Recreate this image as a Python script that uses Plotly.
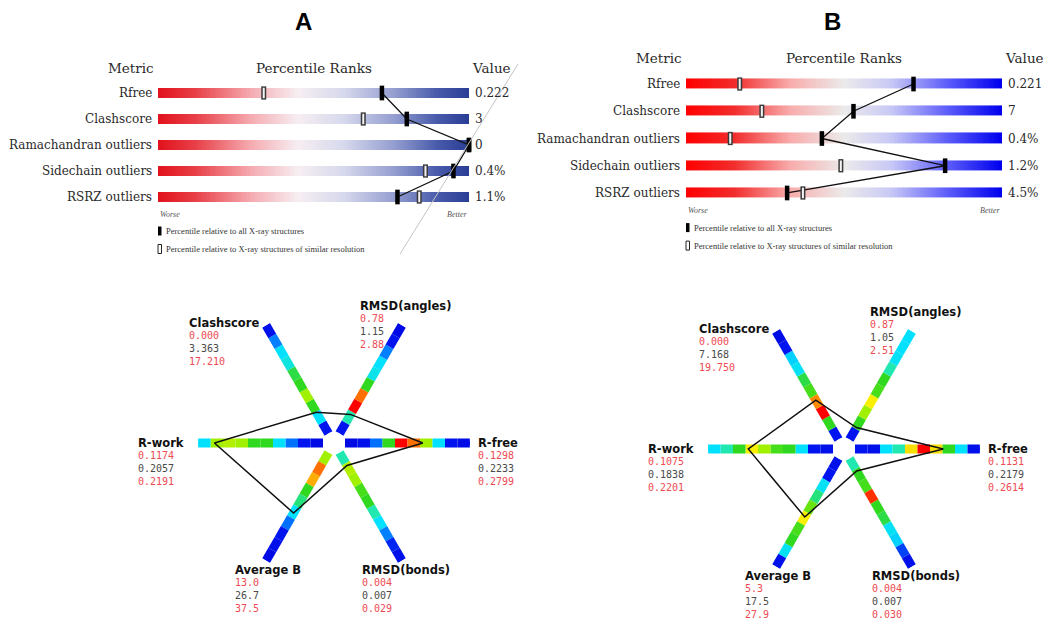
import numpy as np
import plotly.graph_objects as go
from plotly.colors import sample_colorscale

W, H = 1045, 623


def px(x):
    return x / W


def py(y):
    return 1 - y / H


# ---------------- percentile-rank sliders ----------------
metrics = ["Rfree", "Clashscore", "Ramachandran outliers", "Sidechain outliers", "RSRZ outliers"]

a_values = ["0.222", "3", "0", "0.4%", "1.1%"]
a_pct_all = [72, 80, 100, 95, 77]
a_pct_res = [34, 66, 100, 86, 84]

b_values = ["0.221", "7", "0.4%", "1.2%", "4.5%"]
b_pct_all = [72, 53, 43, 82, 32]
b_pct_res = [17, 24, 14, 49, 37]

# ---------------- polygon statistics ----------------
spokes = ["R-free", "RMSD(angles)", "Clashscore", "R-work", "Average B", "RMSD(bonds)"]
spoke_angles = [0, 60, 120, 180, 240, 300]

a_low = ["0.1298", "0.78", "0.000", "0.1174", "13.0", "0.004"]
a_val = ["0.2233", "1.15", "3.363", "0.2057", "26.7", "0.007"]
a_high = ["0.2799", "2.88", "17.210", "0.2191", "37.5", "0.029"]

b_low = ["0.1131", "0.87", "0.000", "0.1075", "5.3", "0.004"]
b_val = ["0.2179", "1.05", "7.168", "0.1838", "17.5", "0.007"]
b_high = ["0.2614", "2.51", "19.750", "0.2201", "27.9", "0.030"]

# relative histogram density per bin, from the centre outwards (10 bins per spoke)
a_hist_rfree = [0.05, 0.08, 0.2, 0.5, 1.0, 0.85, 0.6, 0.35, 0.1, 0.06]
a_hist_angles = [0.1, 0.42, 1.0, 0.85, 0.5, 0.37, 0.35, 0.22, 0.1, 0.05]
a_hist_clash = [0.1, 0.35, 0.5, 0.6, 0.5, 0.48, 0.38, 0.35, 0.22, 0.08]
a_hist_rwork = [0.05, 0.1, 0.2, 0.35, 0.5, 0.5, 0.6, 0.62, 0.6, 0.35]
a_hist_bfac = [0.6, 0.85, 0.78, 0.5, 0.45, 0.35, 0.2, 0.1, 0.08, 0.05]
a_hist_bonds = [0.42, 0.62, 0.6, 0.52, 0.5, 0.42, 0.35, 0.22, 0.12, 0.08]

b_hist_rfree = [0.1, 0.08, 0.35, 0.42, 0.72, 1.0, 0.72, 0.5, 0.35, 0.08]
b_hist_angles = [0.1, 0.5, 0.6, 0.7, 0.52, 0.5, 0.42, 0.36, 0.35, 0.35]
b_hist_clash = [0.1, 0.5, 1.0, 0.82, 0.52, 0.48, 0.36, 0.33, 0.1, 0.06]
b_hist_rwork = [0.08, 0.1, 0.35, 0.5, 0.52, 0.6, 0.7, 0.5, 0.42, 0.35]
b_hist_bfac = [0.08, 0.1, 0.36, 0.45, 0.55, 0.7, 0.52, 0.5, 0.36, 0.08]
b_hist_bonds = [0.42, 0.5, 0.52, 0.92, 0.5, 0.48, 0.36, 0.33, 0.15, 0.08]

a_hist = [a_hist_rfree, a_hist_angles, a_hist_clash, a_hist_rwork, a_hist_bfac, a_hist_bonds]
b_hist = [b_hist_rfree, b_hist_angles, b_hist_clash, b_hist_rwork, b_hist_bfac, b_hist_bonds]

# ---------------- styling ----------------
SLIDER_A = [[0.0, "rgb(226,18,28)"], [0.12, "rgb(232,64,72)"], [0.3, "rgb(245,172,178)"],
            [0.45, "rgb(246,238,242)"], [0.6, "rgb(214,216,236)"], [0.76, "rgb(148,158,208)"],
            [0.9, "rgb(72,90,170)"], [1.0, "rgb(42,62,150)"]]
SLIDER_B = [[0.0, "rgb(255,0,0)"], [0.15, "rgb(242,44,44)"], [0.33, "rgb(248,172,172)"],
            [0.5, "rgb(236,234,234)"], [0.65, "rgb(200,200,246)"], [0.83, "rgb(92,92,250)"],
            [1.0, "rgb(0,0,238)"]]
SPOKE_SCALE = [[0.0, "rgb(0,0,216)"], [0.1, "rgb(0,20,240)"], [0.2, "rgb(0,112,255)"],
               [0.35, "rgb(0,224,255)"], [0.42, "rgb(32,232,176)"], [0.5, "rgb(48,216,32)"],
               [0.6, "rgb(160,240,0)"], [0.7, "rgb(248,240,0)"], [0.82, "rgb(255,140,0)"],
               [0.92, "rgb(255,48,0)"], [1.0, "rgb(255,0,0)"]]

SERIF = "DejaVu Serif"
SMALL_SERIF = "Liberation Serif"
SANS = "DejaVu Sans"
MONO = "DejaVu Sans Mono"
RED_NUM = "#ee4a52"
GREY_NUM = "#4a4a4a"

fig = go.Figure()
annotations = []
shapes = []

# slider panels: (axis suffix, x pixel span, y pixel span, gap, colours, data)
slider_panels = [
    ("", (158, 469), (80, 210), 16, SLIDER_A, a_values, a_pct_all, a_pct_res),
    ("2", (686, 1002), (70.4, 206.6), 17, SLIDER_B, b_values, b_pct_all, b_pct_res),
]

N = 240
rows = list(range(len(metrics)))
for suf, (x0, x1), (y0, y1), gap, cscale, vals, p_all, p_res in slider_panels:
    xa, ya = "x" + suf, "y" + suf
    z = np.tile(np.linspace(0, 1, N), (len(metrics), 1))
    fig.add_trace(go.Heatmap(
        z=z, x=np.linspace(0, 100, N + 1), y=rows, colorscale=cscale, zmin=0, zmax=1,
        showscale=False, ygap=gap, hoverinfo="skip", xaxis=xa, yaxis=ya))
    # line joining the all-structure percentiles
    fig.add_trace(go.Scatter(x=p_all, y=rows, mode="lines", line=dict(color="#111", width=1.3),
                             xaxis=xa, yaxis=ya, hoverinfo="skip", showlegend=False, cliponaxis=False))
    # open markers: resolution-matched percentile
    fig.add_trace(go.Scatter(x=p_res, y=rows, mode="markers",
                             marker=dict(symbol="line-ns", size=9.5, line=dict(width=5, color="#3a3a3a")),
                             xaxis=xa, yaxis=ya, hoverinfo="skip", showlegend=False, cliponaxis=False))
    fig.add_trace(go.Scatter(x=p_res, y=rows, mode="markers",
                             marker=dict(symbol="line-ns", size=7.5, line=dict(width=2, color="#f4f4f4")),
                             xaxis=xa, yaxis=ya, hoverinfo="skip", showlegend=False, cliponaxis=False))
    # filled markers: all X-ray structures percentile
    fig.add_trace(go.Scatter(x=p_all, y=rows, mode="markers",
                             marker=dict(symbol="line-ns", size=10.5, line=dict(width=4.5, color="#000")),
                             xaxis=xa, yaxis=ya, hoverinfo="skip", showlegend=False, cliponaxis=False))

    axis_x = dict(domain=[px(x0), px(x1)], range=[0, 100], visible=False, fixedrange=True)
    axis_y = dict(domain=[py(y1), py(y0)], range=[len(metrics) - 0.5, -0.5], visible=False,
                  fixedrange=True, anchor=xa)
    axis_x["anchor"] = ya
    fig.update_layout(**{"xaxis" + suf: axis_x, "yaxis" + suf: axis_y})

    for i, name in enumerate(metrics):
        annotations.append(dict(text=name, x=px(x0 - 4), y=i, xref="paper", yref=ya,
                                xanchor="right", yanchor="middle", showarrow=False,
                                font=dict(family=SERIF, size=12, color="#2a2a2a")))
        annotations.append(dict(text=vals[i], x=px(x1 + 4), y=i, xref="paper", yref=ya,
                                xanchor="left", yanchor="middle", showarrow=False,
                                font=dict(family=SERIF, size=12, color="#2a2a2a")))

    head_y = y0 - 12
    annotations += [
        dict(text="Metric", x=px(x0 - 2), y=py(head_y), xanchor="right"),
        dict(text="Percentile Ranks", x=px((x0 + x1) / 2), y=py(head_y), xanchor="center"),
        dict(text="Value", x=px(x1 + 1), y=py(head_y), xanchor="left"),
    ]
    for a in annotations[-3:]:
        a.update(xref="paper", yref="paper", yanchor="middle", showarrow=False,
                 font=dict(family=SERIF, size=13.5, color="#2a2a2a"))

    # Worse / Better captions
    cap_y = y1 + 4
    annotations.append(dict(text="<i>Worse</i>", x=px(x0), y=py(cap_y), xref="paper", yref="paper",
                            xanchor="left", yanchor="middle", showarrow=False,
                            font=dict(family=SMALL_SERIF, size=8, color="#555")))
    annotations.append(dict(text="<i>Better</i>", x=px(x1), y=py(cap_y), xref="paper", yref="paper",
                            xanchor="right", yanchor="middle", showarrow=False,
                            font=dict(family=SMALL_SERIF, size=8, color="#555")))

    # key for the two marker types
    key_rows = [(cap_y + 17, "Percentile relative to all X-ray structures", True),
                (cap_y + 35, "Percentile relative to X-ray structures of similar resolution", False)]
    for ky, label, filled in key_rows:
        shapes.append(dict(type="rect", xref="paper", yref="paper",
                           x0=px(x0), x1=px(x0 + 3.5), y0=py(ky - 4.5), y1=py(ky + 4.5),
                           fillcolor="#000" if filled else "#fff",
                           line=dict(color="#222", width=1 if not filled else 0)))
        annotations.append(dict(text=label, x=px(x0 + 6), y=py(ky), xref="paper", yref="paper",
                                xanchor="left", yanchor="middle", showarrow=False,
                                font=dict(family=SMALL_SERIF, size=8.5, color="#333")))

# faint diagonal rule crossing panel A
shapes.append(dict(type="line", xref="paper", yref="paper", x0=px(400), y0=py(254), x1=px(518), y1=py(64),
                   line=dict(color="#c4c4c4", width=1)))

# ---------------- polygon panels ----------------
R_OUT = 136
HOLE = 11 / R_OUT
label_offsets = {
    "Clashscore": (-147, -120),
    "RMSD(angles)": (24, -137),
    "R-work": (-198, 0),
    "R-free": (142, 0),
    "Average B": (-101, 127),
    "RMSD(bonds)": (26, 127),
}

poly_panels = [
    ("polar", (334, 443), a_low, a_val, a_high, a_hist),
    ("polar2", (844, 449), b_low, b_val, b_high, b_hist),
]

for sub, (cx, cy), lows, vals, highs, hists in poly_panels:
    for ang, hist in zip(spoke_angles, hists):
        nb = len(hist)
        colours = sample_colorscale(SPOKE_SCALE, hist)
        for k, c in enumerate(colours):
            fig.add_trace(go.Scatterpolar(r=[k / nb, (k + 1) / nb], theta=[ang, ang], mode="lines",
                                          line=dict(color=c, width=9), subplot=sub,
                                          hoverinfo="skip", showlegend=False))
    norm = [(float(v) - float(lo)) / (float(hi) - float(lo)) for lo, v, hi in zip(lows, vals, highs)]
    fig.add_trace(go.Scatterpolar(r=norm + norm[:1], theta=spoke_angles + spoke_angles[:1], mode="lines",
                                  line=dict(color="#111", width=1.5), subplot=sub,
                                  hoverinfo="skip", showlegend=False))
    fig.update_layout(**{sub: dict(
        domain=dict(x=[px(cx - R_OUT), px(cx + R_OUT)], y=[py(cy + R_OUT), py(cy - R_OUT)]),
        hole=HOLE, bgcolor="rgba(0,0,0,0)",
        radialaxis=dict(range=[0, 1], visible=False),
        angularaxis=dict(rotation=0, direction="counterclockwise", visible=False),
    )})

    for name, lo, v, hi in zip(spokes, lows, vals, highs):
        dx, dy = label_offsets[name]
        lx, ly = cx + dx, cy + dy
        annotations.append(dict(text="<b>%s</b>" % name, x=px(lx), y=py(ly), xref="paper", yref="paper",
                                xanchor="left", yanchor="middle", showarrow=False,
                                font=dict(family=SANS, size=11.5, color="#111")))
        nums = ("<span style='color:%s'>%s</span><br><span style='color:%s'>%s</span><br>"
                "<span style='color:%s'>%s</span>" % (RED_NUM, lo, GREY_NUM, v, RED_NUM, hi))
        annotations.append(dict(text=nums, x=px(lx), y=py(ly + 5), xref="paper", yref="paper",
                                xanchor="left", yanchor="top", align="left", showarrow=False,
                                font=dict(family=MONO, size=10, color=GREY_NUM)))

# panel letters
for letter, lx in (("A", 303), ("B", 832)):
    annotations.append(dict(text="<b>%s</b>" % letter, x=px(lx), y=py(22), xref="paper", yref="paper",
                            xanchor="center", yanchor="middle", showarrow=False,
                            font=dict(family="Liberation Sans Narrow, Liberation Sans", size=24, color="#000")))

fig.update_layout(
    width=W, height=H,
    margin=dict(l=0, r=0, t=0, b=0),
    paper_bgcolor="white", plot_bgcolor="rgba(0,0,0,0)",
    showlegend=False,
    annotations=annotations,
    shapes=shapes,
)

fig.write_html("out.html")
